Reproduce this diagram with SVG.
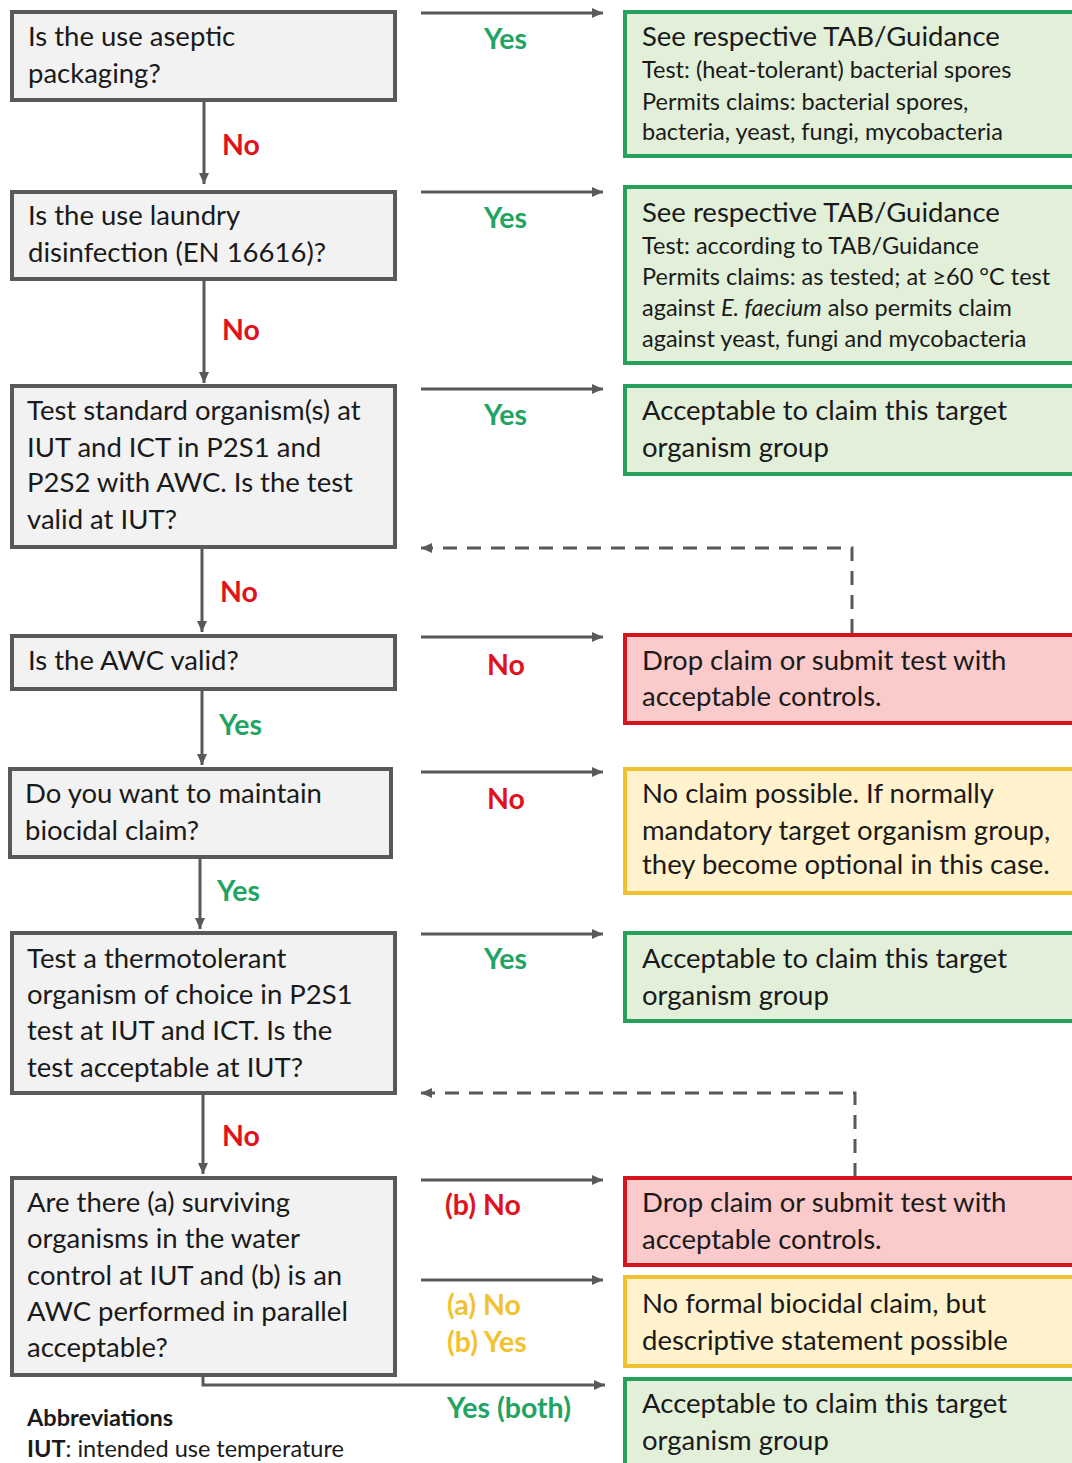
<svg xmlns="http://www.w3.org/2000/svg" width="1072" height="1463" viewBox="0 0 1072 1463">
<defs>
<marker id="ah" markerUnits="userSpaceOnUse" markerWidth="12" markerHeight="12" refX="11" refY="6" orient="auto">
<path d="M0,1 L11,6 L0,11 Z" fill="#595959"/>
</marker>
<style>
.q{fill:#f2f2f2;stroke:#595959;stroke-width:4}
.g{fill:#e2efd9;stroke:#26a05c;stroke-width:4}
.r{fill:#fbcaca;stroke:#d7141d;stroke-width:4}
.y{fill:#fff2cc;stroke:#f0c230;stroke-width:4}
text{font-family:"Lato","Liberation Sans",sans-serif;fill:#1a1a1a}
.t{font-size:27.5px}
.s{font-size:23.5px}
.lb{font-size:28.5px;font-weight:bold}
.gr{fill:#1fa463}
.rd{fill:#e0131c}
.yl{fill:#f2c230}
.c{fill:none;stroke:#595959;stroke-width:3}
.d{fill:none;stroke:#595959;stroke-width:3;stroke-dasharray:14,10}
.ab{font-size:23.5px}
</style>
</defs>

<g id="connectors">
<line class="c" x1="204" y1="100" x2="204" y2="184" marker-end="url(#ah)"/>
<line class="c" x1="204" y1="279" x2="204" y2="383" marker-end="url(#ah)"/>
<line class="c" x1="202" y1="547" x2="202" y2="632" marker-end="url(#ah)"/>
<line class="c" x1="202" y1="689" x2="202" y2="765" marker-end="url(#ah)"/>
<line class="c" x1="200" y1="857" x2="200" y2="929" marker-end="url(#ah)"/>
<line class="c" x1="203" y1="1093" x2="203" y2="1174" marker-end="url(#ah)"/>
<polyline class="c" points="203,1375 203,1385 605,1385" marker-end="url(#ah)"/>
<line class="c" x1="421" y1="13" x2="603" y2="13" marker-end="url(#ah)"/>
<line class="c" x1="421" y1="192" x2="603" y2="192" marker-end="url(#ah)"/>
<line class="c" x1="421" y1="389" x2="603" y2="389" marker-end="url(#ah)"/>
<line class="c" x1="421" y1="637" x2="603" y2="637" marker-end="url(#ah)"/>
<line class="c" x1="421" y1="772" x2="603" y2="772" marker-end="url(#ah)"/>
<line class="c" x1="421" y1="934" x2="603" y2="934" marker-end="url(#ah)"/>
<line class="c" x1="421" y1="1180" x2="603" y2="1180" marker-end="url(#ah)"/>
<line class="c" x1="421" y1="1280" x2="603" y2="1280" marker-end="url(#ah)"/>
<polyline class="d" points="852,633 852,548 421,548" marker-end="url(#ah)"/>
<polyline class="d" points="855,1177 855,1093 421,1093" marker-end="url(#ah)"/>
<text class="lb rd" x="222" y="155">No</text>
<text class="lb rd" x="222" y="340">No</text>
<text class="lb rd" x="220" y="602">No</text>
<text class="lb gr" x="219" y="735">Yes</text>
<text class="lb gr" x="217" y="901">Yes</text>
<text class="lb rd" x="222" y="1146">No</text>
<text class="lb gr" x="484" y="49">Yes</text>
<text class="lb gr" x="484" y="228">Yes</text>
<text class="lb gr" x="484" y="425">Yes</text>
<text class="lb rd" x="487" y="675">No</text>
<text class="lb rd" x="487" y="809">No</text>
<text class="lb gr" x="484" y="969">Yes</text>
<text class="lb rd" x="445" y="1215">(b) No</text>
<text class="lb yl" x="447" y="1315">(a) No</text>
<text class="lb yl" x="447" y="1352">(b) Yes</text>
<text class="lb gr" x="447" y="1418">Yes (both)</text>
</g>

<g id="q1"><rect class="q" x="12" y="12" width="383" height="88"/>
<text class="t" x="28" y="46">Is the use aseptic</text><text class="t" x="28" y="83">packaging?</text></g>
<g id="q2"><rect class="q" x="12" y="192" width="383" height="87"/>
<text class="t" x="28" y="225">Is the use laundry</text><text class="t" x="28" y="262">disinfection (EN 16616)?</text></g>
<g id="q3"><rect class="q" x="12" y="386" width="383" height="161"/>
<text class="t" x="27" y="420">Test standard organism(s) at</text>
<text class="t" x="27" y="457">IUT and ICT in P2S1 and</text>
<text class="t" x="27" y="492">P2S2 with AWC. Is the test</text>
<text class="t" x="27" y="529">valid at IUT?</text></g>
<g id="q4"><rect class="q" x="12" y="636" width="383" height="53"/>
<text class="t" x="28" y="670">Is the AWC valid?</text></g>
<g id="q5"><rect class="q" x="10" y="769" width="381" height="88"/>
<text class="t" x="25" y="803">Do you want to maintain</text><text class="t" x="25" y="840">biocidal claim?</text></g>
<g id="q6"><rect class="q" x="12" y="933" width="383" height="160"/>
<text class="t" x="27" y="968">Test a thermotolerant</text>
<text class="t" x="27" y="1004">organism of choice in P2S1</text>
<text class="t" x="27" y="1040">test at IUT and ICT. Is the</text>
<text class="t" x="27" y="1077">test acceptable at IUT?</text></g>
<g id="q7"><rect class="q" x="12" y="1178" width="383" height="197"/>
<text class="t" x="27" y="1212">Are there (a) surviving</text>
<text class="t" x="27" y="1248">organisms in the water</text>
<text class="t" x="27" y="1285">control at IUT and (b) is an</text>
<text class="t" x="27" y="1321">AWC performed in parallel</text>
<text class="t" x="27" y="1357">acceptable?</text></g>

<g id="o1"><rect class="g" x="625" y="12" width="460" height="144"/>
<text class="t" x="642" y="46">See respective TAB/Guidance</text>
<text class="s" x="642" y="78">Test: (heat-tolerant) bacterial spores</text>
<text class="s" x="642" y="110">Permits claims: bacterial spores,</text>
<text class="s" x="642" y="140">bacteria, yeast, fungi, mycobacteria</text></g>
<g id="o2"><rect class="g" x="625" y="187" width="460" height="176"/>
<text class="t" x="642" y="222">See respective TAB/Guidance</text>
<text class="s" x="642" y="254">Test: according to  TAB/Guidance</text>
<text class="s" x="642" y="285">Permits claims: as tested; at ≥60 °C test</text>
<text class="s" x="642" y="316">against <tspan font-style="italic">E. faecium</tspan> also permits claim</text>
<text class="s" x="642" y="347">against yeast, fungi and mycobacteria</text></g>
<g id="o3"><rect class="g" x="625" y="386" width="460" height="88"/>
<text class="t" x="642" y="420">Acceptable to claim this target</text>
<text class="t" x="642" y="457">organism group</text></g>
<g id="o4"><rect class="r" x="625" y="635" width="460" height="88"/>
<text class="t" x="642" y="670">Drop claim or submit test with</text>
<text class="t" x="642" y="706">acceptable controls.</text></g>
<g id="o5"><rect class="y" x="625" y="769" width="460" height="124"/>
<text class="t" x="642" y="803">No claim possible. If normally</text>
<text class="t" x="642" y="840">mandatory target organism group,</text>
<text class="t" x="642" y="874">they become optional in this case.</text></g>
<g id="o6"><rect class="g" x="625" y="933" width="460" height="88"/>
<text class="t" x="642" y="968">Acceptable to claim this target</text>
<text class="t" x="642" y="1005">organism group</text></g>
<g id="o7"><rect class="r" x="625" y="1178" width="460" height="87"/>
<text class="t" x="642" y="1212">Drop claim or submit test with</text>
<text class="t" x="642" y="1249">acceptable controls.</text></g>
<g id="o8"><rect class="y" x="625" y="1277" width="460" height="89"/>
<text class="t" x="642" y="1313">No formal biocidal claim, but</text>
<text class="t" x="642" y="1350">descriptive statement possible</text></g>
<g id="o9"><rect class="g" x="625" y="1379" width="460" height="100"/>
<text class="t" x="642" y="1413">Acceptable to claim this target</text>
<text class="t" x="642" y="1450">organism group</text></g>

<g id="abbrev">
<text class="ab" x="27" y="1426" font-weight="bold">Abbreviations</text>
<text class="ab" x="27" y="1457"><tspan font-weight="bold">IUT</tspan>: intended use temperature</text>
</g>
</svg>
